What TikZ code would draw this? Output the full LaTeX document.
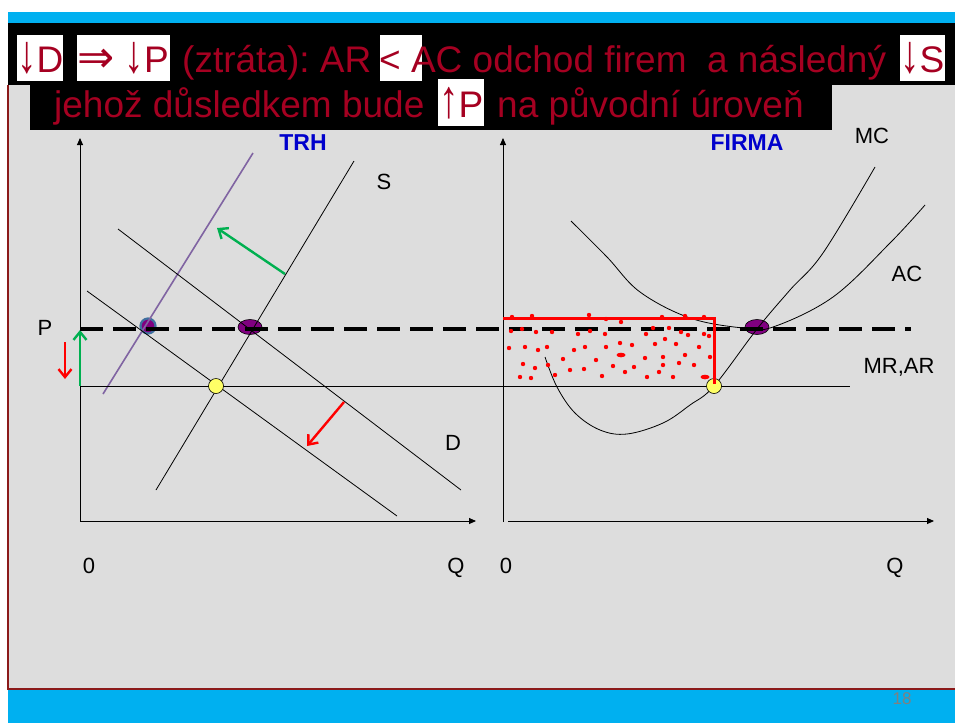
\documentclass[tikz,border=0pt]{standalone}
\usepackage{fontspec}
\setmainfont{Liberation Sans}
\newfontfamily\arrowfont{DejaVu Sans}
\usepackage{xcolor}
\definecolor{slideblue}{HTML}{00B0F0}
\definecolor{panel}{HTML}{DDDDDD}
\definecolor{titlered}{HTML}{A50021}
\definecolor{hdrblue}{HTML}{0000CC}
\definecolor{shiftgreen}{HTML}{00B050}
\definecolor{lossred}{HTML}{FF0000}
\definecolor{violetS}{HTML}{8064A2}
\definecolor{eqpurple}{HTML}{800080}
\definecolor{ringblue}{HTML}{3F6F9F}
\definecolor{eqyellow}{HTML}{FFFF66}
\definecolor{border}{HTML}{8B1A1A}
\definecolor{pagegray}{HTML}{808080}
\usepackage{tikz}
\usetikzlibrary{arrows.meta,shapes.geometric}
\frenchspacing
\newcommand{\tallarrow}[1]{\scalebox{1.05}[1.45]{#1}}
\tikzset{
  headline/.style={font=\fontsize{37}{40}\selectfont, text=titlered, inner sep=0pt, anchor=base west},
  lbl/.style={font=\fontsize{22}{24}\selectfont, inner sep=0pt, anchor=base},
  panelhead/.style={font=\fontsize{23}{26}\selectfont\bfseries, text=hdrblue, inner sep=0pt, anchor=base},
  axis/.style={-{Triangle[length=7pt,width=6pt]}, line width=0.9pt},
  curve/.style={line width=0.8pt},
  shiftarrow/.style={-{Straight Barb[length=8pt,width=13pt]}, line width=2.4pt},
  level/.style={line width=3.5pt, dash pattern=on 23pt off 10pt},
  eqold/.style={ellipse, draw=black, line width=0.6pt, fill=eqpurple, minimum width=24pt, minimum height=15pt, inner sep=0pt},
  eqshort/.style={circle, draw=ringblue, line width=2.2pt, fill=eqpurple, minimum size=15pt, inner sep=0pt},
  eqnew/.style={circle, draw=black, line width=0.6pt, fill=eqyellow, minimum size=15pt, inner sep=0pt},
}
\begin{document}
\begin{tikzpicture}[x=1pt, y=-1pt]
  \useasboundingbox (0,0) rectangle (955,723);
  % slide frame
  \fill[panel] (8,23) rectangle (955,689);
  \fill[slideblue] (8,12) rectangle (955,23);
  \fill[slideblue] (8,689) rectangle (955,723);
  \draw[border, line width=1.5pt] (8,85) -- (8,689) -- (955,689);
  \fill[black] (8,23) rectangle (955,85);
  \fill[black] (30,85) rectangle (832,130);
  \foreach \xa/\ya/\xb/\yb in {17/35/63/81, 77/35/170/81, 380/35/422/81, 900/35/945/81, 438/79/484/126}
    \fill[white] (\xa,\ya) rectangle (\xb,\yb);
  % headline
  \node[headline] (hD) at (17,72) {\tallarrow{↓}D};
  \node[headline] (hP) at (77,72) {\scalebox{1.2}{\arrowfont ⇒} \tallarrow{↓}P};
  \node[headline] (hLoss) at (182,72) {(ztráta): AR};
  \node[headline] (hExit) at (379,72) {<\ AC odchod firem\ \ a následný};
  \node[headline] (hS) at (900,72) {\tallarrow{↓}S};
  \node[headline] (hNext) at (54,117) {jehož důsledkem bude};
  \node[headline] (hUp) at (439,117) {\tallarrow{↑}P};
  \node[headline] (hBack) at (497,117) {na původní úroveň};
  \node[font=\fontsize{17}{19}\selectfont, text=pagegray, inner sep=0pt] (pageno) at (902,699) {18};

  % equilibria under the lines
  \node[eqshort] (eqS) at (148,326) {};
  \node[eqold] (eqM) at (250,327) {};
  \node[eqold] (eqF) at (757,327) {};

  % TRH
  \draw[axis] (80,521) -- (80,138);
  \draw[axis] (80,521) -- (476,521);
  \coordinate (S0) at (156,490); \coordinate (S1) at (354,161);
  \coordinate (Sn0) at (103,394); \coordinate (Sn1) at (253,153);
  \coordinate (D0) at (118,229); \coordinate (D1) at (461,490);
  \coordinate (Dn0) at (87,291); \coordinate (Dn1) at (397,516);
  \draw[curve] (S0) -- (S1);
  \draw[curve, violetS, line width=1.6pt] (Sn0) -- (Sn1);
  \draw[curve] (D0) -- (D1);
  \draw[curve] (Dn0) -- (Dn1);
  \coordinate (gA) at (285,274); \coordinate (gB) at (217,228);
  \coordinate (rA) at (344,402); \coordinate (rB) at (307,446);
  \draw[shiftarrow, shiftgreen] (gA) -- (gB);
  \draw[shiftarrow, lossred] (rA) -- (rB);
  \draw[shiftarrow, shiftgreen] (80,386) -- (80,330);
  \draw[shiftarrow, lossred] (65,342) -- (65,379);

  % FIRMA
  \draw[axis] (503,522) -- (503,138);
  \draw[axis] (508,521) -- (934,521);
  \draw[curve] plot[smooth, tension=0.6] coordinates {(545,357) (557,387) (575,413) (600,430) (627,434) (663,423) (690,405) (714,386) (757,329) (790,290) (823,253) (875,167)};
  \draw[curve] plot[smooth, tension=0.6] coordinates {(571,221) (607,257) (640,292) (690,318) (743,328) (773,327) (833,297) (890,243) (925,205)};

  % price levels
  \draw[line width=0.9pt] (80,386) -- (850,386);
  \draw[level] (80,329) -- (911,329);

  \node[eqnew] (eqT) at (216,386) {};
  \node[eqnew] (eqL) at (714,386) {};

  % loss area
  \draw[lossred, line width=3pt] (503,318) -- (714,318) -- (714,384);
  \foreach \x/\y in {512/317, 532/316, 589/315, 606/319, 621/322, 662/317, 685/316, 704/317,
      511/331, 522/329, 536/332, 552/332, 578/334, 590/331, 605/334, 646/334, 653/328, 669/328, 681/332, 688/335, 704/334, 709/336,
      509/348, 525/347, 538/350, 547/347, 574/350, 585/347, 606/347, 620/343, 632/345, 655/344, 665/339, 676/344, 699/347,
      523/364, 535/368, 548/365, 563/359, 570/370, 584/369, 596/360, 613/366, 625/372, 634/367, 645/358, 663/357, 663/365, 679/363, 685/355, 694/365, 710/357,
      520/377, 531/378, 555/375, 602/376, 647/377, 659/372, 673/377}
    \fill[lossred] (\x,\y) circle (2.2pt);
  \fill[lossred] (621,355) ellipse (4.5pt and 2.3pt);
  \fill[lossred] (705,377) ellipse (4.5pt and 2.3pt);

  % labels
  \node[panelhead] (trh) at (303,150) {TRH};
  \node[panelhead] (firma) at (747,150) {FIRMA};
  \node[lbl] (pP) at (45,335) {P};
  \node[lbl] (o1) at (89,573) {0};
  \node[lbl] (q1) at (456,573) {Q};
  \node[lbl] (o2) at (506,573) {0};
  \node[lbl] (q2) at (895,573) {Q};
  \node[lbl] (sS) at (384,189) {S};
  \node[lbl] (sD) at (453,450) {D};
  \node[lbl] (mc) at (872,143) {MC};
  \node[lbl] (ac) at (907,281) {AC};
  \node[lbl] (mrar) at (899,373) {MR,AR};
\end{tikzpicture}
\end{document}
